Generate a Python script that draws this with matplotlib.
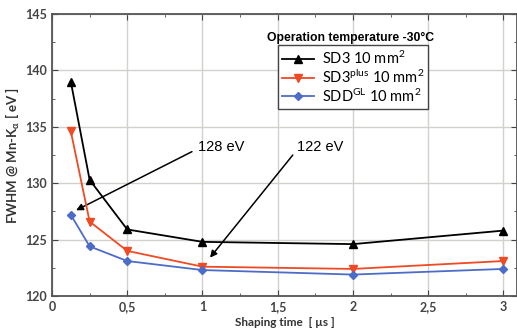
import matplotlib
matplotlib.use("Agg")
import matplotlib.pyplot as plt
from matplotlib.ticker import MultipleLocator, FuncFormatter

plt.rcParams["font.family"] = ["Lato", "DejaVu Sans"]
plt.rcParams["mathtext.default"] = "regular"

# --- datos ---
shaping = [0.125, 0.25, 0.5, 1, 2, 3]
sd3 = [139.0, 130.3, 125.9, 124.8, 124.6, 125.8]
sd3plus = [134.6, 126.6, 124.0, 122.6, 122.4, 123.1]
sddgl = [127.2, 124.4, 123.1, 122.3, 121.9, 122.4]
labels = ["SD3 10 mm$^2$", "SD3$^{plus}$ 10 mm$^2$", "SDD$^{GL}$ 10 mm$^2$"]

fig = plt.figure(figsize=(5.17, 3.34), dpi=100)
ax = fig.add_axes([0.1006, 0.1138, 0.8994, 0.844])

ax.plot(shaping, sd3, color="black", lw=1.3, marker="^", ms=5.5, label=labels[0], zorder=4)
ax.plot(shaping, sd3plus, color="#ee4a24", lw=1.3, marker="v", ms=5.5, label=labels[1], zorder=4)
ax.plot(shaping, sddgl, color="#4c6cc8", lw=1.3, marker="D", ms=4, label=labels[2], zorder=4)

ax.set_xlim(0, 3.09)
ax.set_ylim(120, 145)
ax.xaxis.set_major_locator(MultipleLocator(0.5))
ax.xaxis.set_minor_locator(MultipleLocator(0.25))
ax.yaxis.set_major_locator(MultipleLocator(5))
ax.yaxis.set_minor_locator(MultipleLocator(2.5))
ax.xaxis.set_major_formatter(FuncFormatter(lambda v, p: f"{v:g}".replace(".", ",")))
ax.grid(True, which="major", color="#d4d0cc", lw=1.0)
ax.tick_params(which="both", direction="in", top=True, right=True, colors="#444444",
               labelsize=9)
ax.tick_params(which="major", length=4)
ax.tick_params(which="minor", length=2.5)
for lab in ax.get_xticklabels() + ax.get_yticklabels():
    lab.set_fontweight("bold")
for s in ax.spines.values():
    s.set_color("#555555")
    s.set_linewidth(1.3)

ax.set_xlabel("Shaping time  [ µs ]", fontsize=8.5, fontweight="bold", color="#333333", labelpad=3)
ax.set_ylabel("FWHM @ Mn-K$_{\\alpha}$ [ eV ]", fontsize=9.5, fontweight="bold", color="#333333", labelpad=2)

ax.text(1.43, 142.9, "Operation temperature -30°C", family="Liberation Sans",
        fontsize=8.8, fontweight="bold", ha="left", va="center")
leg = ax.legend(loc="upper left", bbox_to_anchor=(0.47, 0.915), fontsize=10.5,
                fancybox=False, edgecolor="#444444", framealpha=1,
                handlelength=2.2, borderpad=0.3, labelspacing=0.1, handletextpad=0.5)
leg.get_frame().set_linewidth(1.0)

arrow = dict(arrowstyle="-|>", color="black", lw=1.1, mutation_scale=10, shrinkA=0, shrinkB=0)
ax.annotate("", xy=(0.16, 127.6), xytext=(0.93, 132.8), arrowprops=arrow)
ax.text(0.97, 133.2, "128 eV", family="Liberation Sans", fontsize=10.5, va="center")
ax.annotate("", xy=(1.05, 123.4), xytext=(1.6, 132.5), arrowprops=arrow)
ax.text(1.63, 133.2, "122 eV", family="Liberation Sans", fontsize=10.5, va="center")

fig.savefig("out.png", dpi=100)
